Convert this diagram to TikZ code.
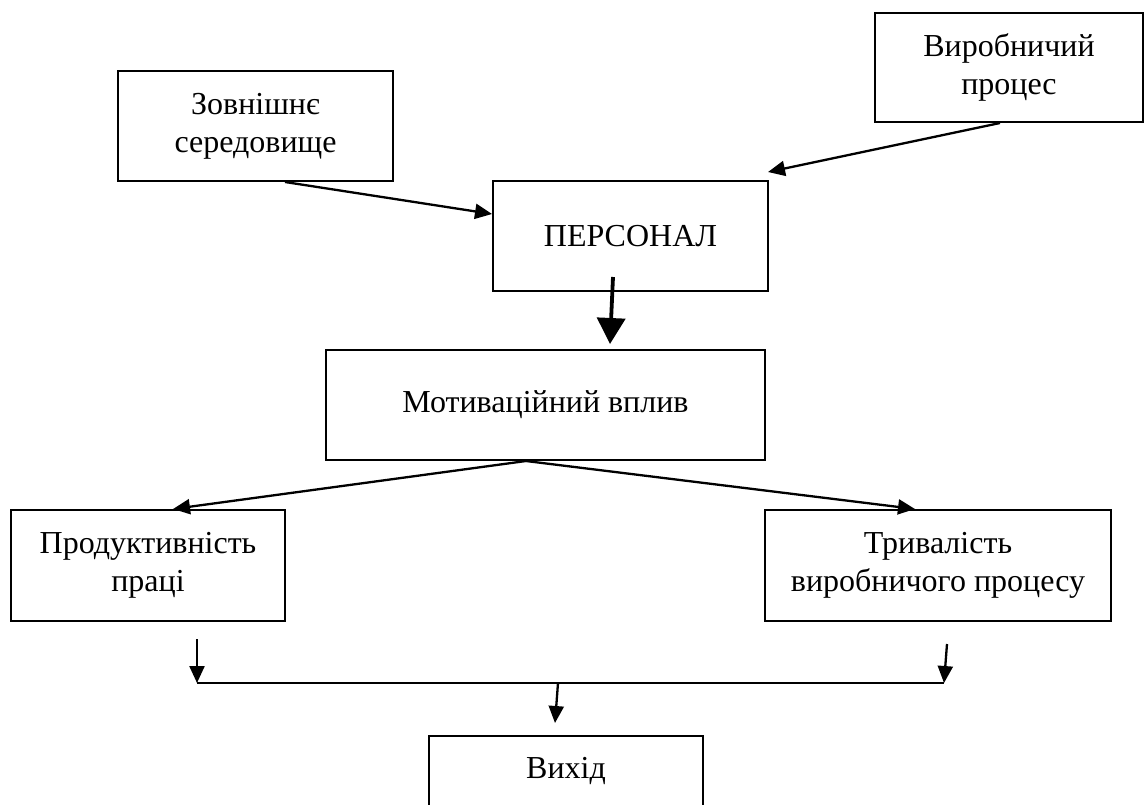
\documentclass[tikz,border=0pt]{standalone}
\usepackage{fontspec}
\setmainfont{Liberation Serif}
\usetikzlibrary{arrows.meta,calc}
\tikzset{
  box/.style={draw, line width=2pt, align=center, inner sep=0pt,
    font=\fontsize{32}{38}\selectfont},
  conn/.style={line width=2.3pt, -{Triangle[length=17pt,width=15pt]}},
  thickconn/.style={line width=3.8pt, -{Triangle[length=26pt,width=28pt]}},
  plain/.style={line width=2.3pt}
}
\begin{document}
\begin{tikzpicture}[x=1pt,y=-1pt]
\useasboundingbox (0,0) rectangle (1146,804);
\node[box, minimum width=275pt, minimum height=110pt] (zov) at (255.5,126) {Зовнішнє\\середовище};
\node[box, minimum width=268pt, minimum height=109pt] (vyr) at (1009,67.5) {Виробничий\\процес};
\node[box, minimum width=275pt, minimum height=110pt] (pers) at (630.5,236) {ПЕРСОНАЛ};
\node[box, minimum width=439pt, minimum height=110pt] (mot) at (545.5,405) {Мотиваційний вплив};
\node[box, minimum width=274pt, minimum height=111pt] (prod) at (148,565.5) {Продуктивність\\праці};
\node[box, minimum width=346pt, minimum height=111pt] (triv) at (938,565.5) {Тривалість\\виробничого процесу};
\node[box, minimum width=274pt, anchor=north, text height=42pt, text depth=60pt] (vyh) at (566,735) {Вихід};
\coordinate (j1) at (197,683);
\coordinate (j2) at (944,683);
\coordinate (jm) at (558,683);
\draw[conn] ($(zov.south)+(29.5,0)$) -- ($(pers.west)+(0,-22)$);
\draw[conn] ($(vyr.south)+(-9,0)$) -- ($(pers.north east)+(-1,-8)$);
\draw[thickconn] ($(pers.south)+(-17.5,-15)$) -- ($(mot.north)+(64.5,-5)$);
\draw[conn] ($(mot.south)+(-19.5,0)$) -- ($(prod.north)+(25,0)$);
\draw[conn] ($(mot.south)+(-19.5,0)$) -- ($(triv.north)+(-23,0)$);
\draw[conn] ($(prod.south)+(49,17)$) -- (j1);
\draw[conn] ($(triv.south)+(9,22)$) -- (j2);
\draw[plain] (j1) -- (j2);
\draw[conn] (jm) -- ($(vyh.north)+(-11,-12)$);
\end{tikzpicture}
\end{document}
